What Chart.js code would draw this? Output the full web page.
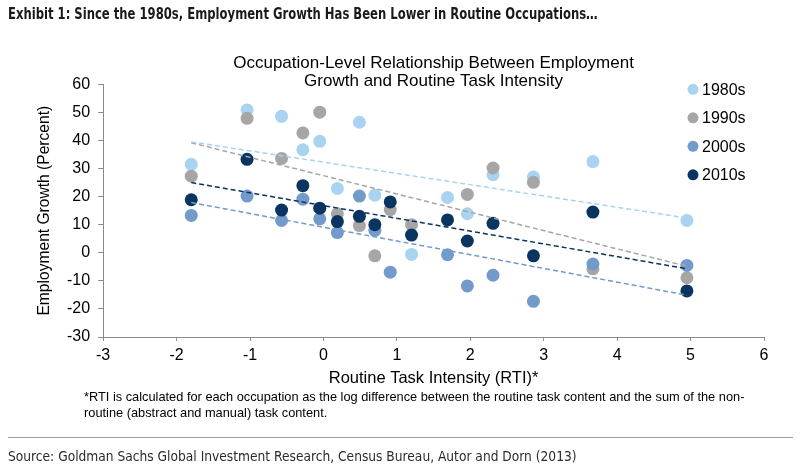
<!DOCTYPE html>
<html>
<head>
<meta charset="utf-8">
<script src="https://cdn.jsdelivr.net/npm/chart.js@4.4.0/dist/chart.umd.min.js"></script>
<style>
  body { margin: 0; background: #fff; }
  #page { position: relative; width: 801px; height: 474px; overflow: hidden; font-family: Arial, "Liberation Sans", sans-serif; }
  #myChart { position: absolute; left: 0; top: 0; }
  .exhibit { position: absolute; left: 8px; top: 4px; font-family: "DejaVu Sans Condensed", Roboto, sans-serif; font-weight: bold; font-size: 16px; color: #1a1a1a; white-space: nowrap; transform-origin: 0 0; }
  .note { position: absolute; left: 84px; top: 389px; font-size: 12.8px; line-height: 16px; color: #000; white-space: nowrap; }
  .rule { position: absolute; left: 8px; width: 785px; top: 437px; border-top: 1px solid #9a9a9a; }
  .source { position: absolute; left: 8px; top: 448px; font-family: "DejaVu Sans Condensed", Roboto, sans-serif; font-size: 14.5px; color: #2b2b2b; white-space: nowrap; transform-origin: 0 0; }
</style>
</head>
<body>
<div id="page">
  <canvas id="myChart" width="801" height="474"></canvas>
  <div class="exhibit" id="exhibit">Exhibit 1: Since the 1980s, Employment Growth Has Been Lower in Routine Occupations…</div>
  <div class="note">*RTI is calculated for each occupation as the log difference between the routine task content and the sum of the non-<br>routine (abstract and manual) task content.</div>
  <div class="rule"></div>
  <div class="source" id="source">Source: Goldman Sachs Global Investment Research, Census Bureau, Autor and Dorn (2013)</div>
</div>
<script>
// routine task intensity of each occupation (x)
var rti = [-1.8, -1.04, -0.57, -0.28, -0.05, 0.19, 0.49, 0.70, 0.91, 1.2, 1.69, 1.96, 2.31, 2.86, 3.67, 4.95];

// employment growth by decade, percent (null = not visible)
var g1980 = [31.5, 50.9, 48.6, 36.7, 39.7, 22.9, 46.5, 20.5, null, -0.6, 19.7, 13.9, 27.8, 27.0, 32.5, 11.5];
var g1990 = [27.3, 47.9, 33.6, 42.7, 50.1, 13.9, 9.7, -1.1, 15.4, 10.0, null, 20.8, 30.2, 25.1, -5.7, -8.9];
var g2000 = [13.3, 20.2, 11.5, 19.1, 12.1, 7.2, 20.2, 8.0, -6.9, null, -0.7, -11.8, -8.0, -17.3, -4.0, -4.5];
var g2010 = [18.9, 33.3, 15.2, 23.9, 15.9, 11.1, 13.0, 10.0, 18.1, 6.3, 11.7, 4.2, 10.5, -1.1, 14.5, -13.6];

var decades = ['1980s', '1990s', '2000s', '2010s'];
var colours = ['#a9d3f1', '#a6a6a6', '#729bcb', '#0b3561'];

// dashed trend lines, read at both ends
var trendX = [-1.8, 4.95];
var trendStart = [39.5, 39.2, 17.9, 25.0];
var trendEnd = [12.4, -4.8, -15.1, -5.7];

var series = [g1980, g1990, g2000, g2010];

// squeeze the header and source lines to the width they have in the original
function fitWidth(id, w) {
    var el = document.getElementById(id);
    el.style.transform = 'scaleX(' + (w / el.offsetWidth) + ')';
}
fitWidth('exhibit', 590);
fitWidth('source', 569);

var datasets = [];
series.forEach(function (g, i) {
    datasets.push({
        label: decades[i],
        data: rti.map(function (x, j) { return { x: x, y: g[j] }; })
                 .filter(function (p) { return p.y !== null; }),
        backgroundColor: colours[i],
        borderColor: colours[i],
        pointRadius: 6.5,
        pointBorderWidth: 0,
        order: 4 - i
    });
});
series.forEach(function (g, i) {
    datasets.push({
        label: decades[i] + ' trend',
        data: [{ x: trendX[0], y: trendStart[i] }, { x: trendX[1], y: trendEnd[i] }],
        showLine: true,
        borderColor: colours[i],
        borderWidth: 1.5,
        borderDash: [5, 3],
        pointRadius: 0,
        order: 0
    });
});

// legend sits inside the plot, top right
var sideLegend = {
    id: 'sideLegend',
    afterDraw: function (chart) {
        var ctx = chart.ctx, area = chart.chartArea;
        ctx.save();
        ctx.font = '16px Arial, "Liberation Sans", sans-serif';
        ctx.textBaseline = 'middle';
        decades.forEach(function (label, i) {
            var x = area.right - 71;
            var y = area.top + 5 + i * 28.5;
            ctx.fillStyle = colours[i];
            ctx.beginPath();
            ctx.arc(x, y, 5.5, 0, Math.PI * 2);
            ctx.fill();
            ctx.fillStyle = '#000';
            ctx.fillText(label, x + 9, y + 1);
        });
        ctx.restore();
    }
};

Chart.defaults.font.family = 'Arial, "Liberation Sans", sans-serif';
Chart.defaults.color = '#000';

var ctx = document.getElementById('myChart').getContext('2d');
var myChart = new Chart(ctx, {
    type: 'scatter',
    data: { datasets: datasets },
    plugins: [sideLegend],
    options: {
        responsive: false,
        animation: false,
        layout: { padding: { left: 20, right: 37, top: 45, bottom: 86 } },
        plugins: {
            legend: { display: false },
            tooltip: { enabled: false },
            title: {
                display: true,
                fullSize: false,
                text: ['Occupation-Level Relationship Between Employment', 'Growth and Routine Task Intensity'],
                font: { size: 17, weight: 'normal', lineHeight: 1.06 },
                color: '#000',
                padding: { top: 9, bottom: -5.7 }
            }
        },
        scales: {
            x: {
                type: 'linear',
                min: -3,
                max: 6,
                ticks: { stepSize: 1, font: { size: 16 }, color: '#000', padding: 5 },
                grid: { drawOnChartArea: false, tickLength: 4, color: '#8c8c8c' },
                border: { color: '#8c8c8c' },
                title: {
                    display: true,
                    text: 'Routine Task Intensity (RTI)*',
                    font: { size: 16.5 },
                    color: '#000',
                    padding: { top: -2, bottom: 0 }
                }
            },
            y: {
                min: -30,
                max: 60,
                ticks: { stepSize: 10, font: { size: 16 }, color: '#000', padding: 8 },
                grid: { drawOnChartArea: false, tickLength: 5, color: '#8c8c8c' },
                border: { color: '#8c8c8c' },
                title: {
                    display: true,
                    text: 'Employment Growth (Percent)',
                    font: { size: 15.6 },
                    color: '#000',
                    padding: { top: 15, bottom: 5.3 }
                }
            }
        }
    }
});
</script>
</body>
</html>
